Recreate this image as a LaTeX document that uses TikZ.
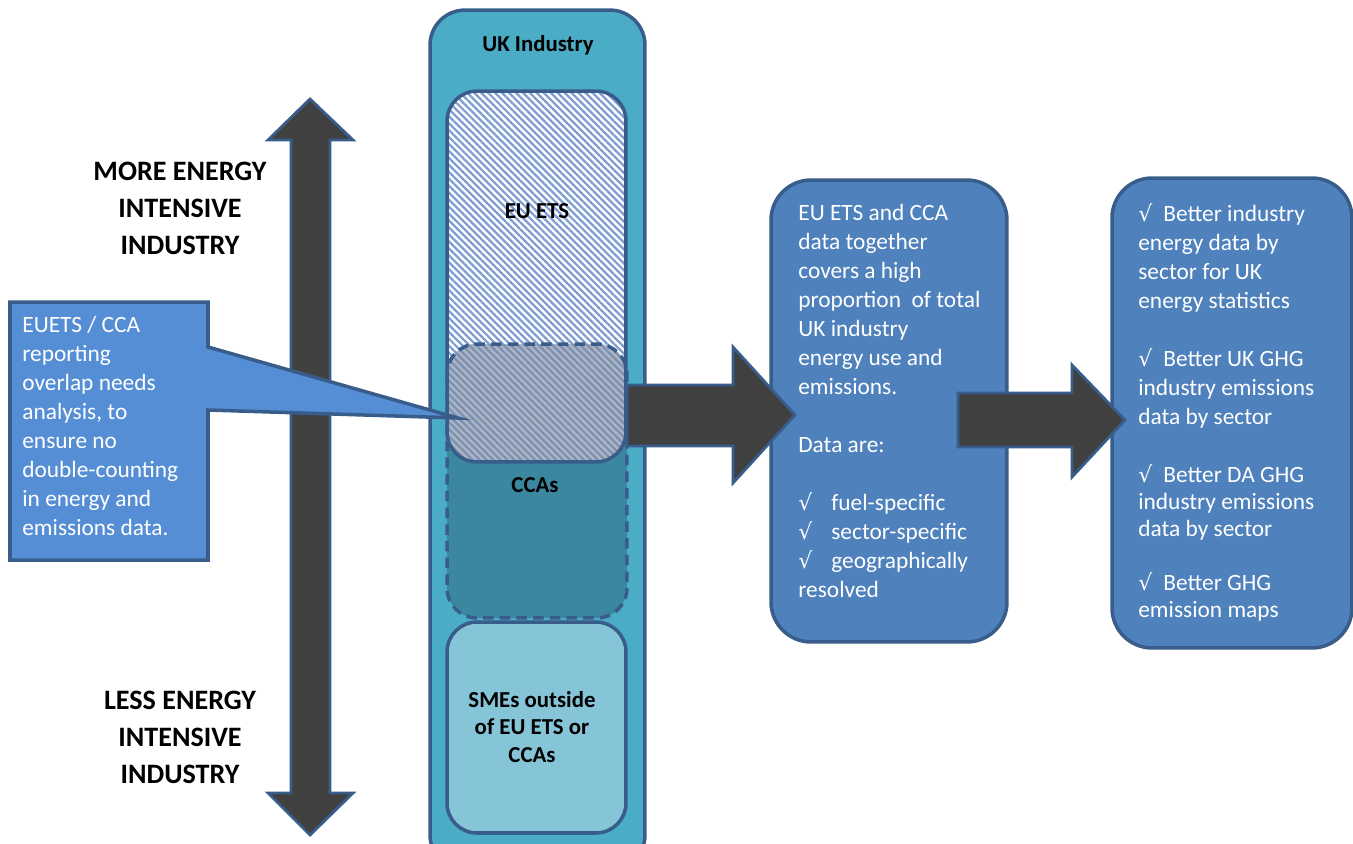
\documentclass[tikz,border=0pt]{standalone}
\usepackage{fontspec}
\setmainfont{Carlito}
\newfontfamily\tickfont{DejaVu Sans}
\usepackage{tikz}
\usetikzlibrary{positioning,patterns.meta}

\definecolor{edgeblue}{HTML}{385D8A}
\definecolor{arrowgray}{HTML}{404040}
\definecolor{ukaqua}{HTML}{4BACC6}
\definecolor{ccateal}{HTML}{3C87A0}
\definecolor{smeaqua}{HTML}{86C5D8}
\definecolor{overlapgray}{HTML}{AAB5C6}
\definecolor{calloutblue}{HTML}{558ED5}
\definecolor{boxblue}{HTML}{4F81BD}
\definecolor{hatchblue}{HTML}{7F9DD3}
\definecolor{hatchdark}{HTML}{7F90AE}

\newcommand{\sqrtick}{{\tickfont\fontsize{12.5}{13}\selectfont\char"221A}}

\begin{document}
\begin{tikzpicture}[x=0.02cm,y=-0.02cm]
\tikzstyle{blockarrow}=[fill=arrowgray, draw=edgeblue, line width=1.6pt, line join=miter]
\tikzstyle{box}=[rectangle, rounded corners=0.7cm, draw=edgeblue, line width=2pt, outer sep=0pt, inner sep=0pt]
\tikzstyle{sidetext}=[font=\bfseries\fontsize{16}{21}\selectfont, align=center]
\tikzstyle{boxtitle}=[font=\bfseries\fontsize{13}{15.4}\selectfont, align=center]
\tikzstyle{bodytext}=[font=\fontsize{13.3}{16.5}\selectfont, text=white, align=left, anchor=north west, inner sep=0pt]
\tikzstyle{hatch}=[pattern={Lines[angle=-45,distance=2.8pt,line width=1.3pt]}]
\useasboundingbox (0,0) rectangle (1353,843);

% energy intensity scale
\draw[blockarrow] (310,99) -- (353,140) -- (330,140) -- (330,793) -- (353,793) -- (310,835)
  -- (268,793) -- (291,793) -- (291,140) -- (268,140) -- cycle;
\node[sidetext] (more) at (180,208) {MORE ENERGY\\INTENSIVE\\INDUSTRY};
\node[sidetext] (less) at (180,737) {LESS ENERGY\\INTENSIVE\\INDUSTRY};

% industry column
\node[box, fill=ukaqua, minimum width=4.3cm, minimum height=17.2cm] (uk) at (537.5,440) {};
\node[boxtitle] (uktitle) at (538,45) {UK Industry};

\node[box, rounded corners=0.6cm, draw=none, preaction={fill=white}, hatch, pattern color=hatchblue,
  minimum width=3.58cm, minimum height=7.42cm] (ets) at (536.5,276.5) {};
\node[box, rounded corners=0.6cm, draw=none, fill=ccateal,
  minimum width=3.6cm, minimum height=5.48cm] (cca) at (537,481) {};
\begin{scope}
  \clip[rounded corners=0.6cm] (ets.north west) rectangle (ets.south east);
  \fill[overlapgray, rounded corners=0.6cm] (cca.north west) rectangle (cca.south east);
  \fill[hatch, pattern color=hatchdark, rounded corners=0.6cm] (cca.north west) rectangle (cca.south east);
\end{scope}
\draw[edgeblue, line width=2pt, dash pattern=on 6pt off 3.5pt, rounded corners=0.6cm]
  (cca.north west) rectangle (cca.south east);
\draw[edgeblue, line width=2pt, rounded corners=0.6cm] (ets.north west) rectangle (ets.south east);
\node[boxtitle] (etslabel) at (537,211) {EU ETS};
\node[boxtitle] (ccalabel) at (535,485) {CCAs};

\node[box, rounded corners=0.6cm, fill=smeaqua, minimum width=3.58cm, minimum height=4.22cm] (sme) at (536.5,727.5) {};
\node[boxtitle] (smelabel) at (532,727) {SMEs outside\\of EU ETS or\\CCAs};

% overlap note
\draw[fill=calloutblue, draw=edgeblue, line width=2pt, line join=miter]
  (10,302) -- (208,302) -- (208,347) -- (458,418) -- (208,410) -- (208,560) -- (10,560) -- cycle;
\node[bodytext] (note) at (22,316) {EUETS / CCA\\reporting\\overlap needs\\analysis, to\\ensure no\\double-counting\\in energy and\\emissions data.};

% outcome boxes
\node[box, rounded corners=0.8cm, fill=boxblue, minimum width=4.72cm, minimum height=9.24cm] (summary) at (889,411) {};
\node[box, rounded corners=0.8cm, fill=boxblue, minimum width=4.8cm, minimum height=9.4cm] (benefits) at (1232,413) {};

\node[bodytext] (summarytext) at (798,204) {EU ETS and CCA\\data together\\covers a high\\proportion\ \ of total\\UK industry\\energy use and\\emissions.\\[16.5pt]Data are:\\[16.5pt]%
\sqrtick\hspace{0.38cm}fuel-specific\\\sqrtick\hspace{0.38cm}sector-specific\\\sqrtick\hspace{0.38cm}geographically\\resolved};
\node[bodytext] (benefitstext) at (1138,203) {\sqrtick\hspace{0.22cm}Better industry\\energy data by\\sector for UK\\energy statistics\\[16.5pt]%
\sqrtick\hspace{0.22cm}Better UK GHG\\industry emissions\\data by sector\\[16.5pt]%
\sqrtick\hspace{0.22cm}Better DA GHG\\[-1pt]industry emissions\\[-1pt]data by sector\\[14pt]%
\sqrtick\hspace{0.22cm}Better GHG\\[-1pt]emission maps};

% flow arrows
\draw[blockarrow] (627,385) -- (733,385) -- (733,347) -- (795,415) -- (733,483) -- (733,446) -- (627,446) -- cycle;
\draw[blockarrow] (958,393) -- (1072,393) -- (1072,365) -- (1125,420) -- (1072,477) -- (1072,447) -- (958,447) -- cycle;
\end{tikzpicture}
\end{document}
